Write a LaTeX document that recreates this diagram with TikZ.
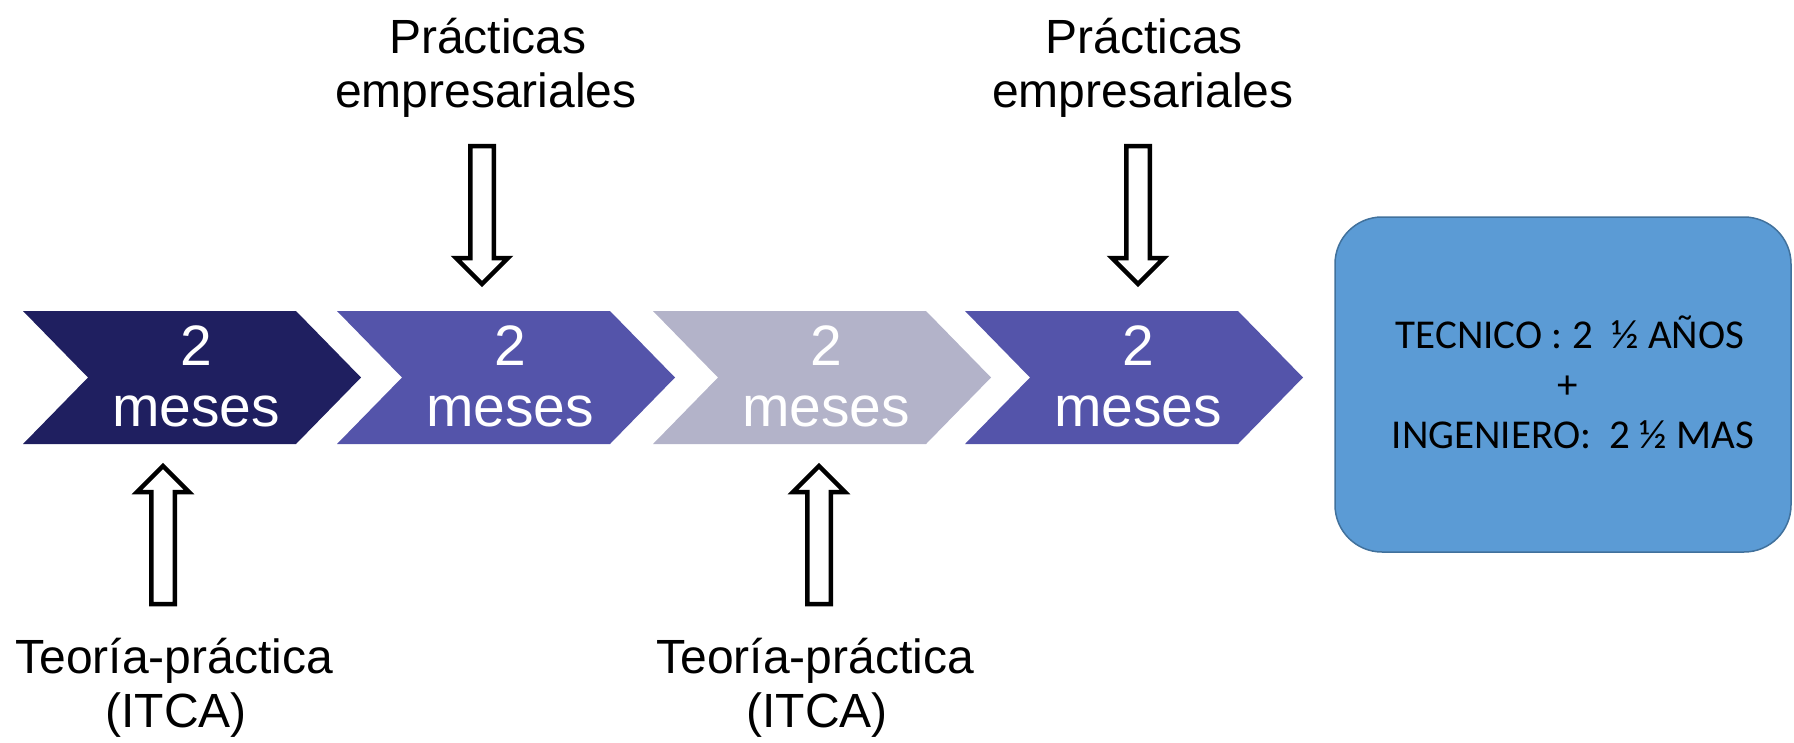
\documentclass[tikz,border=0pt]{standalone}
\usepackage{fontspec}
\setmainfont{Liberation Sans}
\newfontfamily\calibfont{Carlito}
\definecolor{cnavy}{RGB}{31,31,96}
\definecolor{cpurple}{RGB}{84,84,170}
\definecolor{cgrey}{RGB}{179,179,201}
\definecolor{cbox}{RGB}{91,155,213}
\definecolor{cboxline}{RGB}{65,113,156}
\tikzset{
  lbl/.style={font=\fontsize{48}{54}\selectfont, anchor=base, inner sep=0pt},
  chevtxt/.style={font=\fontsize{57}{55}\selectfont, text=white, anchor=base, inner sep=0pt},
  boxtxt/.style={font=\calibfont\fontsize{41}{50}\selectfont, anchor=base, inner sep=0pt},
  blockstyle/.style={draw=black, fill=white, line width=4.5pt, line join=miter},
  blockarrow/.pic={
    \draw[blockstyle] (-11.75,0) -- (11.75,0) -- (11.75,112) -- (26,112) -- (0,138)
      -- (-26,112) -- (-11.75,112) -- cycle;
  },
  resultbox/.style={draw=cboxline, fill=cbox, line width=1.5pt, rounded corners=47pt,
    minimum width=456pt, minimum height=335pt, inner sep=0pt}
}
\begin{document}
\begin{tikzpicture}[x=1pt,y=-1pt]
\useasboundingbox (0,0) rectangle (1794,742);

% chevrons
\foreach \L/\col/\nm in {23/cnavy/1,337/cpurple/2,653/cgrey/3,965/cpurple/4}{
  \fill[\col] (\L,311) -- ++(273,0) -- ++(65,66.5) -- ++(-65,66.5) -- ++(-273,0)
    -- ++(65,-66.5) -- cycle;
  \node[chevtxt] (num\nm) at (\L+173,365) {2};
  \node[chevtxt] (mes\nm) at (\L+173,426) {meses};
}

% top labels
\node[lbl] (topA1) at (488,53) {Prácticas};
\node[lbl] (topA2) at (486,107) {empresariales};
\node[lbl] (topB1) at (1144,53) {Prácticas};
\node[lbl] (topB2) at (1143,107) {empresariales};

% bottom labels
\node[lbl] (botA1) at (174,673) {Teoría-práctica};
\node[lbl] (botA2) at (176,727) {(ITCA)};
\node[lbl] (botB1) at (815,673) {Teoría-práctica};
\node[lbl] (botB2) at (817,727) {(ITCA)};

% block arrows
\pic at (482,146) {blockarrow};
\pic at (1138,146) {blockarrow};
\pic[rotate=180] at (163,604) {blockarrow};
\pic[rotate=180] at (819,604) {blockarrow};

% result box
\node[resultbox] (box) at (1563,384.5) {};
\node[boxtxt] (t1) at (1570,348) {TECNICO : 2~~½ AÑOS};
\node[boxtxt] (t2) at (1568,398) {+};
\node[boxtxt] (t3) at (1573,448) {INGENIERO:~~2 ½ MAS};
\end{tikzpicture}
\end{document}
